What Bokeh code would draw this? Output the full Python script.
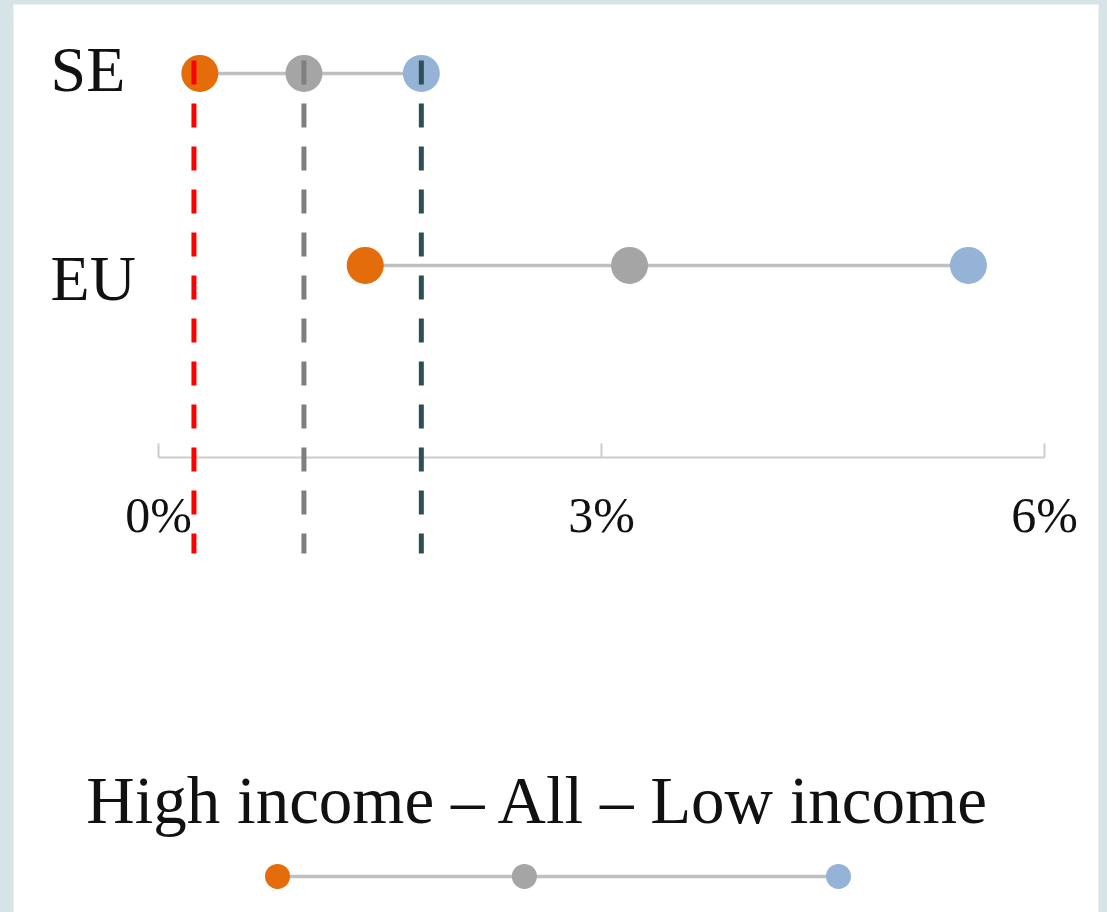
from bokeh.plotting import figure
from bokeh.models import ColumnDataSource, Range1d, GlobalInlineStyleSheet
from bokeh.core.properties import value
from bokeh.embed import file_html
from bokeh.resources import INLINE

# ---------------- data ----------------
regions = ["SE", "EU"]
high_income = [0.28, 1.40]
all_income = [0.985, 3.19]
low_income = [1.78, 5.485]
ref_values = [0.24, 0.985, 1.78]          # dashed reference lines (%)
tick_values = [0, 3, 6]
tick_labels = ["0%", "3%", "6%"]
legend_labels = ["High income", "All", "Low income"]

# ---------------- styles ----------------
C_HIGH, C_ALL, C_LOW = "#e46c0a", "#a5a5a5", "#95b3d7"
REF_COLORS = ["#ff0000", "#7f7f7f", "#2f4f57"]
FONT = value("Liberation Serif")
BG = "#d6e4e8"

W, H = 1107, 912
x0, x1 = -0.982, 6.366
y0, y1 = -2.370, 2.359
py = (H - 4) / (y1 - y0)  # pixels per y unit

p = figure(width=W, height=H, output_backend="svg", toolbar_location=None,
           x_range=Range1d(x0, x1), y_range=Range1d(y0, y1),
           x_axis_location=None, y_axis_location=None,
           min_border_left=13, min_border_right=9, min_border_top=4, min_border_bottom=0,
           background_fill_color="white", border_fill_color=BG, outline_line_color=None)
p.grid.visible = False
p.stylesheets = [GlobalInlineStyleSheet(css=f"body{{background:{BG};overflow:hidden;}}")]

row_y = [len(regions) - i for i in range(len(regions))]
src = ColumnDataSource(dict(region=regions, y=row_y, high=high_income, all=all_income, low=low_income))

# connectors
p.segment(x0="high", y0="y", x1="low", y1="y", source=src, line_color="#c0c0c0", line_width=3.5)
# dots
p.scatter(x="all", y="y", source=src, size=37, fill_color=C_ALL, line_color=None)
p.scatter(x="low", y="y", source=src, size=37, fill_color=C_LOW, line_color=None)
p.scatter(x="high", y="y", source=src, size=37, fill_color=C_HIGH, line_color=None)

# custom axis (drawn as glyphs so that the reference lines can pass beyond it)
p.segment(x0=[tick_values[0]], y0=[0], x1=[tick_values[-1]], y1=[0], line_color="#cccccc", line_width=2)
p.segment(x0=tick_values, y0=[0] * len(tick_values), x1=tick_values, y1=[14 / py] * len(tick_values),
          line_color="#cccccc", line_width=2)
p.text(x=tick_values, y=[-58 / py] * len(tick_values), text=tick_labels, text_font=FONT,
       text_font_size="50px", text_align="center", text_baseline="alphabetic", text_color="#111111")

# dashed reference lines
p.segment(x0=ref_values, y0=[(457 - 60) / py] * 3, x1=ref_values, y1=[-96 / py] * 3,
          line_color=REF_COLORS, line_width=5, line_dash="24 19")

# region labels
p.text(x=[-0.731] * len(regions), y=[row_y[0] + 4 / py, row_y[1] - 13 / py], text=regions,
       text_font=FONT, text_font_size="64px", text_align="left", text_baseline="alphabetic",
       text_color="#111111")

# legend
leg_x = [0.806, 2.478, 4.605]
leg_y = -419 / py
p.text(x=[2.573], y=[-343 / py], text=[" \u2013 ".join(legend_labels)], text_font=FONT,
       text_font_size="67px", text_align="center", text_baseline="alphabetic", text_color="#111111")
p.segment(x0=[leg_x[0]], y0=[leg_y], x1=[leg_x[-1]], y1=[leg_y], line_color="#c0c0c0", line_width=3.5)
p.scatter(x=leg_x, y=[leg_y] * 3, size=25, fill_color=[C_HIGH, C_ALL, C_LOW], line_color=None)

open("out.html", "w").write(file_html(p, INLINE))
